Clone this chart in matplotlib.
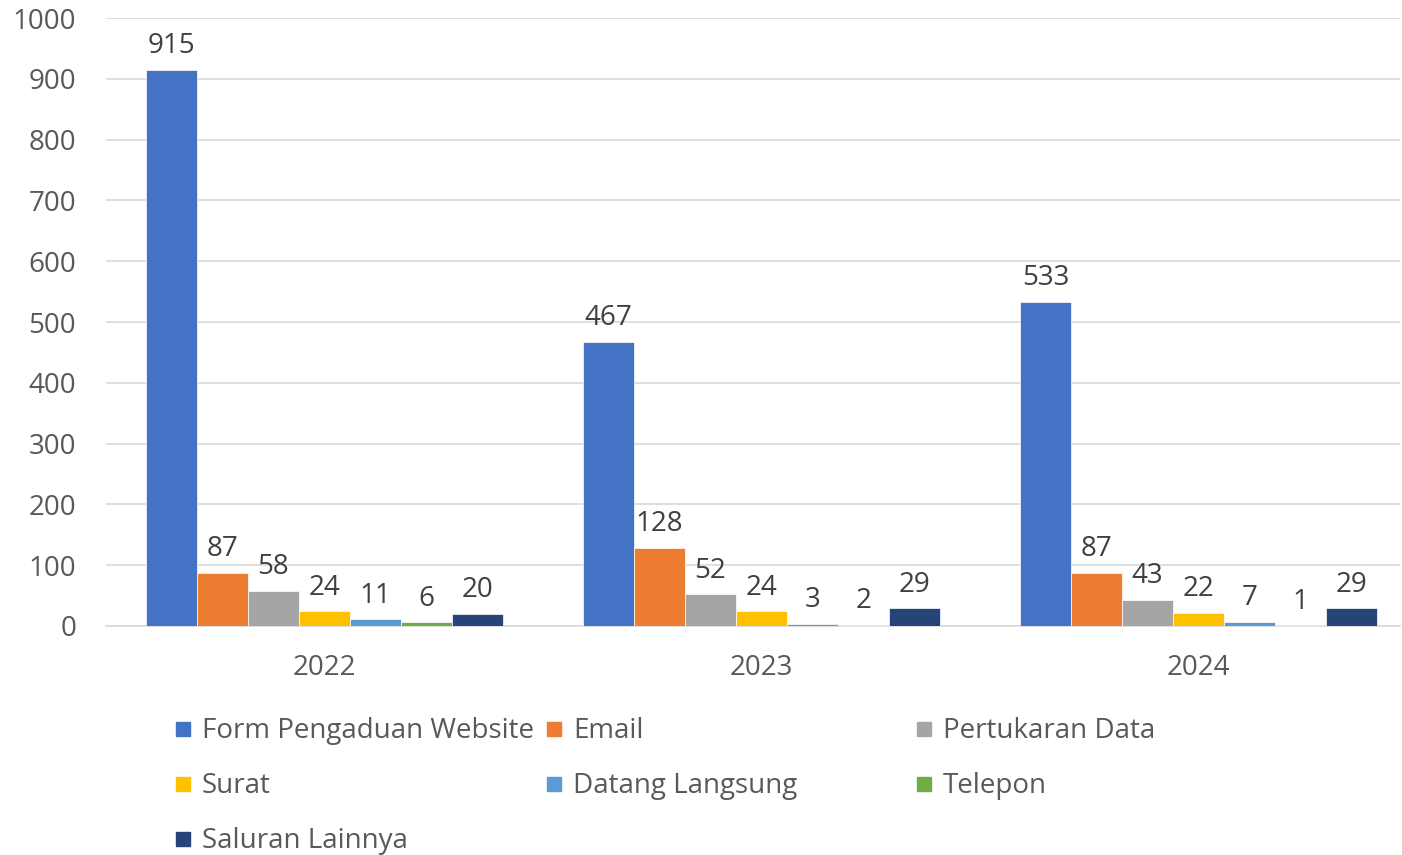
import matplotlib.pyplot as plt
import numpy as np
from matplotlib.patches import Rectangle

plt.rcParams['font.family'] = ['Open Sans', 'DejaVu Sans']

years = ['2022', '2023', '2024']
channels = ['Form Pengaduan Website', 'Email', 'Pertukaran Data', 'Surat',
            'Datang Langsung', 'Telepon', 'Saluran Lainnya']
form_web = [915, 467, 533]
email = [87, 128, 87]
pertukaran = [58, 52, 43]
surat = [24, 24, 22]
datang = [11, 3, 7]
telepon = [6, 2, 1]
lainnya = [20, 29, 29]
series = [form_web, email, pertukaran, surat, datang, telepon, lainnya]
colors = ['#4472C4', '#ED7D31', '#A5A5A5', '#FFC000', '#5B9BD5', '#70AD47', '#264478']

txt = '#595959'
fs = 20
W, H = 1402, 855
fig = plt.figure(figsize=(W / 100, H / 100), dpi=100)
ax = fig.add_axes([106 / W, (H - 626) / H, (1400 - 106) / W, (626 - 18) / H])

x = np.arange(len(years))
bw = 51 / 437
for i, (vals, c) in enumerate(zip(series, colors)):
    pos = x + (i - 3) * bw
    ax.bar(pos, vals, width=bw, color=c, edgecolor='white', linewidth=0.5, zorder=3)
    for p, v in zip(pos, vals):
        ax.annotate(str(v), (p, v), xytext=(0, 7), textcoords='offset points',
                    ha='center', va='bottom', fontsize=fs, color='#404040')

ax.set_xlim(-0.5, -0.5 + (1400 - 106) / 437)
ax.set_ylim(0, 1000)
ax.set_yticks(range(0, 1001, 100))
ax.set_xticks(x)
ax.set_xticklabels(years)
ax.grid(axis='y', color='#D9D9D9', linewidth=1.2, zorder=0)
for s in ['top', 'right', 'left']:
    ax.spines[s].set_visible(False)
ax.spines['bottom'].set_color('#D9D9D9')
ax.spines['bottom'].set_linewidth(1.2)
ax.tick_params(length=0, labelsize=fs, colors=txt)
ax.tick_params(axis='x', pad=20)
ax.tick_params(axis='y', pad=21.5)

# legend, three equal columns
col_x = [176, 547, 917]
row_y = [729, 784, 839]
for k, (name, c) in enumerate(zip(channels, colors)):
    cx = col_x[k % 3]
    cy = row_y[k // 3]
    fig.patches.append(Rectangle((cx / W, (H - cy - 7) / H), 14 / W, 14 / H,
                                 transform=fig.transFigure, color=c))
    fig.text((cx + 26) / W, (H - cy - 2) / H, name, fontsize=fs, color=txt,
             ha='left', va='center')

fig.savefig('out.png', dpi=100)
